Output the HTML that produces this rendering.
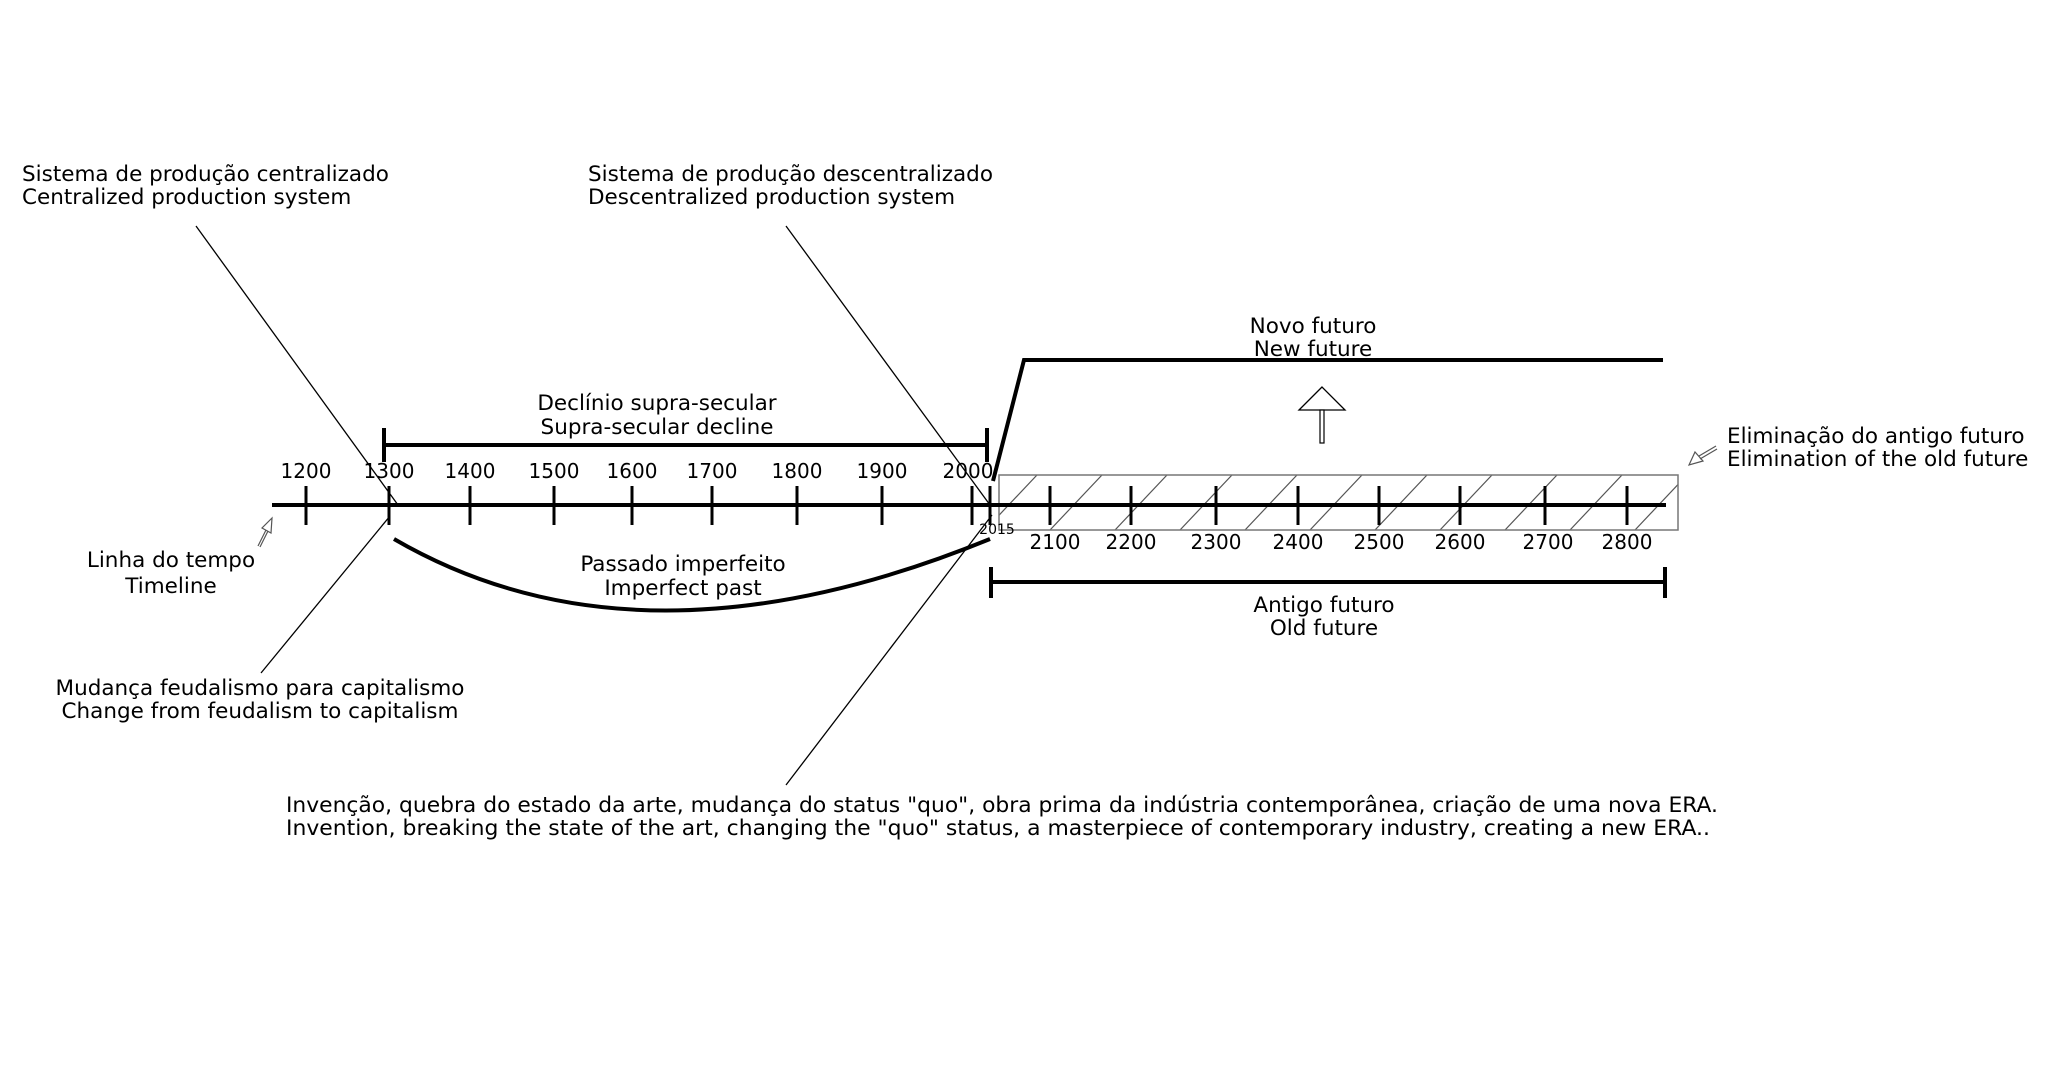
<!DOCTYPE html>
<html><head><meta charset="utf-8"><style>
html,body{margin:0;padding:0;background:#fff;}
svg{display:block;}
text{font-family:"DejaVu Sans","Liberation Sans",sans-serif;font-size:21.5px;fill:#000;}
</style></head><body>
<svg width="2048" height="1080" viewBox="0 0 2048 1080" xmlns="http://www.w3.org/2000/svg">
<g stroke="#000" stroke-width="1.3" fill="none">
<line x1="196" y1="226" x2="398" y2="505"/>
<line x1="261" y1="673" x2="390" y2="516"/>
<line x1="786" y1="226" x2="990" y2="505"/>
<line x1="786" y1="785" x2="992" y2="515"/>
</g>
<defs><clipPath id="c"><rect x="999" y="475" width="679" height="55"/></clipPath></defs>
<g clip-path="url(#c)" stroke="#555" stroke-width="1.2">
<line x1="985" y1="530" x2="1037" y2="475"/>
<line x1="1050" y1="530" x2="1102" y2="475"/>
<line x1="1115" y1="530" x2="1167" y2="475"/>
<line x1="1180" y1="530" x2="1232" y2="475"/>
<line x1="1245" y1="530" x2="1297" y2="475"/>
<line x1="1310" y1="530" x2="1362" y2="475"/>
<line x1="1375" y1="530" x2="1427" y2="475"/>
<line x1="1440" y1="530" x2="1492" y2="475"/>
<line x1="1505" y1="530" x2="1557" y2="475"/>
<line x1="1570" y1="530" x2="1622" y2="475"/>
<line x1="1635" y1="530" x2="1687" y2="475"/>
</g>
<rect x="999" y="475" width="679" height="55" fill="none" stroke="#777" stroke-width="1.5"/>
<g stroke="#000" stroke-width="4" fill="none">
<line x1="272" y1="505" x2="1666" y2="505"/>
<line x1="384" y1="445" x2="987" y2="445"/>
<line x1="384" y1="428" x2="384" y2="462"/>
<line x1="987" y1="428" x2="987" y2="462"/>
<line x1="991" y1="582" x2="1665" y2="582"/>
<line x1="991" y1="567" x2="991" y2="598"/>
<line x1="1665" y1="567" x2="1665" y2="598"/>
<polyline points="993,481 1024,360 1663,360"/>
<path d="M394,539 Q640,682 990,539"/>
</g>
<g stroke="#000" stroke-width="3">
<line x1="306" y1="486" x2="306" y2="525"/>
<line x1="389" y1="486" x2="389" y2="525"/>
<line x1="470" y1="486" x2="470" y2="525"/>
<line x1="554" y1="486" x2="554" y2="525"/>
<line x1="632" y1="486" x2="632" y2="525"/>
<line x1="712" y1="486" x2="712" y2="525"/>
<line x1="797" y1="486" x2="797" y2="525"/>
<line x1="882" y1="486" x2="882" y2="525"/>
<line x1="972" y1="486" x2="972" y2="525"/>
<line x1="990" y1="486" x2="990" y2="525"/>
<line x1="1050" y1="486" x2="1050" y2="525"/>
<line x1="1131" y1="486" x2="1131" y2="525"/>
<line x1="1216" y1="486" x2="1216" y2="525"/>
<line x1="1298" y1="486" x2="1298" y2="525"/>
<line x1="1379" y1="486" x2="1379" y2="525"/>
<line x1="1460" y1="486" x2="1460" y2="525"/>
<line x1="1545" y1="486" x2="1545" y2="525"/>
<line x1="1627" y1="486" x2="1627" y2="525"/>
</g>
<polygon points="1322,387 1299,410 1345,410" fill="#fff" stroke="#000" stroke-width="1.3"/>
<rect x="1320" y="410" width="4" height="33" fill="#fff" stroke="#000" stroke-width="1.2"/>
<g fill="#fff" stroke="#555" stroke-width="1.2">
<polygon points="272,518 271,533 262,528"/>
<line x1="266" y1="530" x2="258" y2="546"/>
<line x1="268" y1="531" x2="260" y2="547"/>
<polygon points="1689,465 1695,452 1703,461"/>
<line x1="1699" y1="456" x2="1716" y2="446"/>
<line x1="1700" y1="459" x2="1717" y2="449"/>
</g>
<g text-anchor="middle">
<text x="306" y="478" style="font-size:20px">1200</text><text x="389" y="478" style="font-size:20px">1300</text><text x="470" y="478" style="font-size:20px">1400</text>
<text x="554" y="478" style="font-size:20px">1500</text><text x="632" y="478" style="font-size:20px">1600</text><text x="712" y="478" style="font-size:20px">1700</text>
<text x="797" y="478" style="font-size:20px">1800</text><text x="882" y="478" style="font-size:20px">1900</text><text x="968" y="478" style="font-size:20px">2000</text>
<text x="997" y="534" style="font-size:14px">2015</text>
<text x="1055" y="549" style="font-size:20px">2100</text><text x="1131" y="549" style="font-size:20px">2200</text><text x="1216" y="549" style="font-size:20px">2300</text>
<text x="1298" y="549" style="font-size:20px">2400</text><text x="1379" y="549" style="font-size:20px">2500</text><text x="1460" y="549" style="font-size:20px">2600</text>
<text x="1548" y="549" style="font-size:20px">2700</text><text x="1627" y="549" style="font-size:20px">2800</text>
<text x="657" y="410">Declínio supra-secular</text><text x="657" y="434">Supra-secular decline</text>
<text x="683" y="571">Passado imperfeito</text><text x="683" y="595">Imperfect past</text>
<text x="1313" y="333">Novo futuro</text><text x="1313" y="356">New future</text>
<text x="1324" y="612">Antigo futuro</text><text x="1324" y="635">Old future</text>
<text x="171" y="567">Linha do tempo</text><text x="171" y="593">Timeline</text>
<text x="260" y="695">Mudança feudalismo para capitalismo</text><text x="260" y="718">Change from feudalism to capitalism</text>
</g>
<text x="22" y="181">Sistema de produção centralizado</text>
<text x="22" y="204">Centralized production system</text>
<text x="588" y="181">Sistema de produção descentralizado</text>
<text x="588" y="204">Descentralized production system</text>
<text x="1727" y="443">Eliminação do antigo futuro</text>
<text x="1727" y="466">Elimination of the old future</text>
<text x="286" y="812" textLength="1432" lengthAdjust="spacingAndGlyphs">Invenção, quebra do estado da arte, mudança do status "quo", obra prima da indústria contemporânea, criação de uma nova ERA.</text>
<text x="286" y="835" textLength="1424" lengthAdjust="spacingAndGlyphs">Invention, breaking the state of the art, changing the "quo" status, a masterpiece of contemporary industry, creating a new ERA..</text>
</svg>
</body></html>
